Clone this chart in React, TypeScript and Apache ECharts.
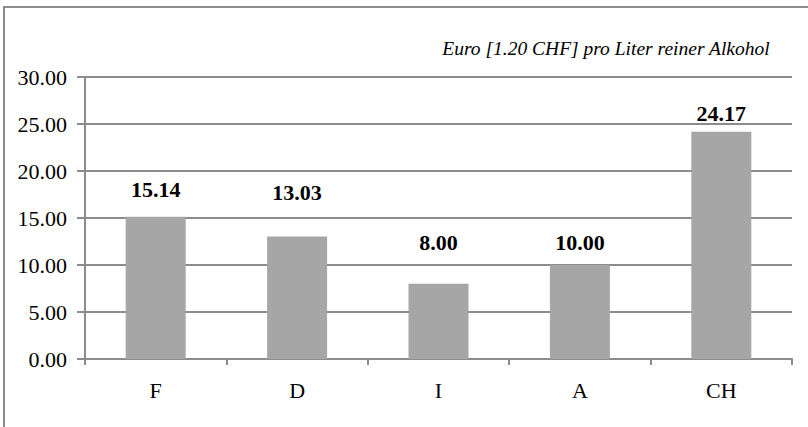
import React, { useEffect, useRef } from "react";
import * as echarts from "echarts";

const categories = ["F", "D", "I", "A", "CH"];
const prices = [15.14, 13.03, 8.0, 10.0, 24.17];
const unitNote = "Euro [1.20 CHF] pro Liter reiner Alkohol";

// Vertical gap between each bar top and its value label (px)
const labelGap = [16, 33, 30, 12, 7];

const FONT = "Liberation Serif, DejaVu Serif, serif";
const LINE = "#8c8c8c";

export default function App() {
  const ref = useRef<HTMLDivElement>(null);

  useEffect(() => {
    if (!ref.current) return;
    const chart = echarts.init(ref.current, null, { renderer: "svg" });
    chart.setOption({
      animation: false,
      backgroundColor: "#ffffff",
      textStyle: { fontFamily: FONT },
      grid: { left: 85, right: 16, top: 77, bottom: 68, containLabel: false },
      graphic: [
        {
          type: "polyline",
          shape: { points: [[4, 440], [4, 7], [820, 7]] },
          style: { stroke: LINE, lineWidth: 2, fill: "none" },
          silent: true,
        },
        {
          type: "text",
          right: 38,
          top: 38,
          style: {
            text: unitNote,
            fontFamily: FONT,
            fontStyle: "italic",
            fontSize: 19.5,
            fill: "#000",
          },
        },
      ],
      xAxis: {
        type: "category",
        data: categories,
        boundaryGap: true,
        axisLine: { show: true, lineStyle: { color: LINE, width: 2 } },
        axisTick: { show: true, alignWithLabel: false, length: 6, lineStyle: { color: LINE, width: 2 } },
        axisLabel: { color: "#000", fontFamily: FONT, fontSize: 22, margin: 20 },
        splitLine: { show: false },
      },
      yAxis: {
        type: "value",
        min: 0,
        max: 30,
        interval: 5,
        axisLine: { show: true, lineStyle: { color: LINE, width: 2 } },
        axisTick: { show: true, length: 8, lineStyle: { color: LINE, width: 2 } },
        axisLabel: {
          color: "#000",
          fontFamily: FONT,
          fontSize: 22,
          margin: 18,
          formatter: (v: number) => v.toFixed(2),
        },
        splitLine: { show: true, lineStyle: { color: LINE, width: 2 } },
      },
      series: [
        {
          type: "bar",
          barWidth: 60,
          itemStyle: { color: "#a6a6a6" },
          data: prices.map((v, i) => ({
            value: v,
            label: {
              show: true,
              position: "top",
              distance: labelGap[i],
              formatter: () => v.toFixed(2),
              fontFamily: FONT,
              fontWeight: "bold",
              fontSize: 22,
              color: "#000",
            },
          })),
        },
      ],
    });
    return () => chart.dispose();
  }, []);

  return (
    <div
      ref={ref}
      style={{ position: "fixed", left: 0, top: 0, width: 808, height: 427, background: "#fff" }}
    />
  );
}
